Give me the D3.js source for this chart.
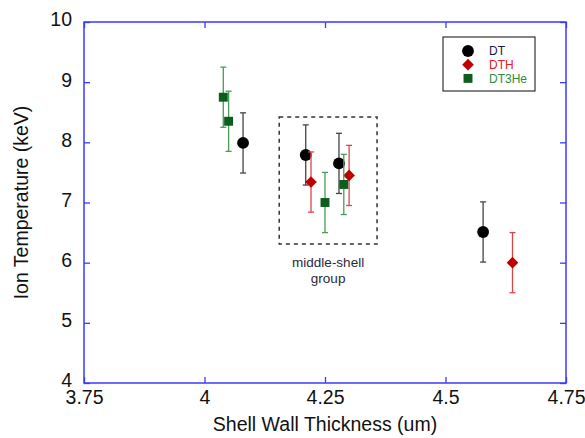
<!DOCTYPE html>
<html>
<head>
<meta charset="utf-8">
<script src="https://cdn.jsdelivr.net/npm/d3@7"></script>
<style>
  body { margin: 0; background: #fff; }
  svg { display: block; font-family: Arial, "Liberation Sans", sans-serif; }
</style>
</head>
<body>
<div id="chart"></div>
<script>
// data
const dtX = [4.08, 4.21, 4.279, 4.578];
const dtY = [7.99, 7.79, 7.65, 6.51];
const dthX = [4.221, 4.30, 4.639];
const dthY = [7.34, 7.45, 6.0];
const dt3heX = [4.039, 4.05, 4.25, 4.289];
const dt3heY = [8.75, 8.35, 7.0, 7.30];
const errBar = 0.5;

const xTicks = [3.75, 4, 4.25, 4.5, 4.75];
const yTicks = [4, 5, 6, 7, 8, 9, 10];
const groupBox = [4.155, 4.358, 6.31, 8.42]; // x0, x1, y0, y1
const seriesNames = ["DT", "DTH", "DT3He"];

const W = 585, H = 438;
const m = { left: 84, top: 22, right: 19, bottom: 55 };

const svg = d3.select("#chart").append("svg")
  .attr("width", W).attr("height", H);

let x = d3.scaleLinear().domain([3.75, 4.75]).range([m.left, W - m.right]);
let y = d3.scaleLinear().domain([4, 10]).range([H - m.bottom, m.top]);

const frameColor = "#3a3aff";

// inward ticks on all four sides, labels only bottom/left
function styleAxis(g) {
  g.select(".domain").remove();
  g.selectAll(".tick line").attr("stroke", frameColor).attr("stroke-width", 1.3);
  g.selectAll(".tick text").attr("fill", "#111").attr("font-size", "19.5px");
}

svg.append("g")
  .attr("transform", `translate(0,${y(4)})`)
  .call(d3.axisBottom(x).tickValues(xTicks).tickFormat(d3.format("")).tickSizeInner(-6).tickSizeOuter(0).tickPadding(7))
  .call(styleAxis);

svg.append("g")
  .attr("transform", `translate(0,${y(10)})`)
  .call(d3.axisTop(x).tickValues(xTicks).tickFormat("").tickSizeInner(-6).tickSizeOuter(0))
  .call(styleAxis);

svg.append("g")
  .attr("transform", `translate(${x(3.75)},0)`)
  .call(d3.axisLeft(y).tickValues(yTicks).tickFormat(d3.format("")).tickSizeInner(-6).tickSizeOuter(0).tickPadding(12))
  .call(styleAxis)
  .selectAll(".tick text").attr("dy", "0.2em");

svg.append("g")
  .attr("transform", `translate(${x(4.75)},0)`)
  .call(d3.axisRight(y).tickValues(yTicks).tickFormat("").tickSizeInner(-6).tickSizeOuter(0))
  .call(styleAxis);

// frame
svg.append("rect")
  .attr("x", x(3.75)).attr("y", y(10))
  .attr("width", x(4.75) - x(3.75)).attr("height", y(4) - y(10))
  .attr("fill", "none").attr("stroke", frameColor).attr("stroke-width", 1.5);

// axis titles
svg.append("text")
  .attr("x", (x(3.75) + x(4.75)) / 2).attr("y", 431)
  .attr("text-anchor", "middle").attr("font-size", "19.5px").attr("fill", "#111")
  .text("Shell Wall Thickness (um)");

svg.append("text")
  .attr("transform", `translate(28,${(y(4) + y(10)) / 2}) rotate(-90)`)
  .attr("text-anchor", "middle").attr("font-size", "19.5px").attr("fill", "#111")
  .text("Ion Temperature (keV)");

// dashed group box
svg.append("rect")
  .attr("x", x(groupBox[0])).attr("y", y(groupBox[3]))
  .attr("width", x(groupBox[1]) - x(groupBox[0]))
  .attr("height", y(groupBox[2]) - y(groupBox[3]))
  .attr("fill", "none").attr("stroke", "#333").attr("stroke-width", 1.5)
  .attr("stroke-dasharray", "4,4");

const labelX = (x(groupBox[0]) + x(groupBox[1])) / 2;
svg.append("text").attr("x", labelX).attr("y", 267)
  .attr("text-anchor", "middle").attr("font-size", "13.5px").attr("fill", "#2a2a3a")
  .text("middle-shell");
svg.append("text").attr("x", labelX).attr("y", 283)
  .attr("text-anchor", "middle").attr("font-size", "13.5px").attr("fill", "#2a2a3a")
  .text("group");

// series (diamond = square turned 45 degrees)
const series = [
  { xs: dtX, ys: dtY, fill: "#000", err: "#444", shape: d3.symbolCircle, size: 110, rot: 0 },
  { xs: dthX, ys: dthY, fill: "#c00000", err: "#e04545", shape: d3.symbolSquare, size: 68, rot: 45 },
  { xs: dt3heX, ys: dt3heY, fill: "#0b5e1e", err: "#4a9a5a", shape: d3.symbolSquare, size: 80, rot: 0 }
];

series.forEach(s => {
  const pts = s.xs.map((v, i) => ({ x: v, y: s.ys[i] }));
  const g = svg.append("g");
  const eb = g.selectAll(".eb").data(pts).enter().append("g").attr("stroke", s.err).attr("stroke-width", 1.3);
  eb.append("line")
    .attr("x1", d => x(d.x)).attr("x2", d => x(d.x))
    .attr("y1", d => y(d.y - errBar)).attr("y2", d => y(d.y + errBar));
  eb.append("line")
    .attr("x1", d => x(d.x) - 3).attr("x2", d => x(d.x) + 3)
    .attr("y1", d => y(d.y + errBar)).attr("y2", d => y(d.y + errBar));
  eb.append("line")
    .attr("x1", d => x(d.x) - 3).attr("x2", d => x(d.x) + 3)
    .attr("y1", d => y(d.y - errBar)).attr("y2", d => y(d.y - errBar));
  g.selectAll("path.mk").data(pts).enter().append("path")
    .attr("class", "mk")
    .attr("transform", d => `translate(${x(d.x)},${y(d.y)}) rotate(${s.rot})`)
    .attr("d", d3.symbol().type(s.shape).size(s.size))
    .attr("fill", s.fill);
});

// legend
const leg = svg.append("g");
leg.append("rect")
  .attr("x", 443).attr("y", 37).attr("width", 92).attr("height", 54)
  .attr("fill", "#fff").attr("stroke", "#333").attr("stroke-width", 1.2);
const legColors = ["#1a1a40", "#e02020", "#2e8b3e"];
seriesNames.forEach((name, i) => {
  const ly = 51 + i * 13.7;
  leg.append("path")
    .attr("transform", `translate(468,${ly}) rotate(${series[i].rot})`)
    .attr("d", d3.symbol().type(series[i].shape).size(series[i].size))
    .attr("fill", series[i].fill);
  leg.append("text")
    .attr("x", 489).attr("y", ly).attr("dy", "0.36em")
    .attr("font-size", "12px").attr("fill", legColors[i])
    .text(name);
});
</script>
</body>
</html>
